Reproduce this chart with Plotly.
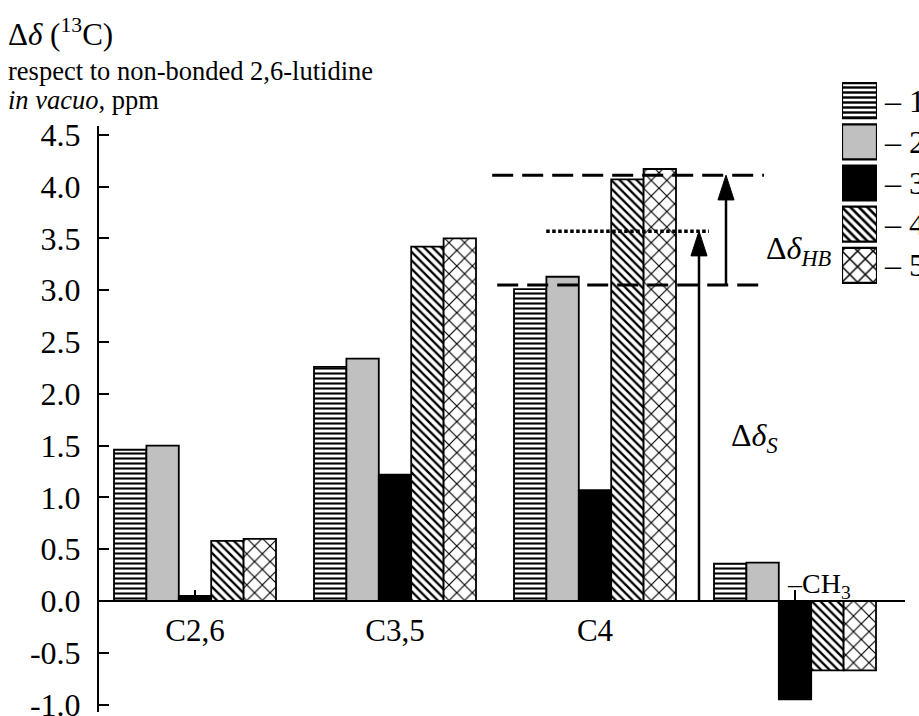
import plotly.graph_objects as go

# ---- data -------------------------------------------------------------
categories = ["C2,6", "C3,5", "C4", "CH3"]
tick_text = ["C2,6", "C3,5", "C4", " "]
series_names = ["1", "2", "3", "4", "5"]
s1 = [1.46, 2.26, 3.01, 0.36]
s2 = [1.50, 2.34, 3.13, 0.37]
s3 = [0.05, 1.22, 1.07, -0.95]
s4 = [0.58, 3.42, 4.07, -0.67]
s5 = [0.60, 3.50, 4.17, -0.67]
y_ticks = [-1.0, -0.5, 0.0, 0.5, 1.0, 1.5, 2.0, 2.5, 3.0, 3.5, 4.0, 4.5]
y_tick_text = ["-1.0", "-0.5", "0.0", "0.5", "1.0", "1.5", "2.0", "2.5", "3.0", "3.5", "4.0", "4.5"]

# levels used for the Δδ_S / Δδ_HB construction over the C4 group
level_low = 3.05
level_mid = 3.57
level_high = 4.11

# ---- styles -----------------------------------------------------------
FONT = "Liberation Serif"
fills = ["white", "#c0c0c0", "black", "white", "white"]
shapes_ = ["-", "", "", "\\", "x"]
psizes = [5, 8, 8, 6, 11]
psolid = [0.42, 0.3, 0.3, 0.38, 0.2]

W, H = 919, 716
ML, MR, MT, MB = 99, 14, 60, 4
PW, PH = W - ML - MR, H - MT - MB


def px(p):
    return (p - ML) / PW


def py(p):
    return (H - MB - p) / PH


ZERO_PX, TOP_PX, BOT_PX, UNIT = 601, 126, 712, 103.6
y_range = [-(BOT_PX - ZERO_PX) / UNIT, (ZERO_PX - TOP_PX) / UNIT]

fig = go.Figure()
series = [s1, s2, s3, s4, s5]
for name, vals, c, sh, sz, so in zip(series_names, series, fills, shapes_, psizes, psolid):
    fig.add_trace(go.Bar(
        x=list(range(len(categories))), y=vals, name=name,
        marker=dict(color=c, line=dict(color="black", width=1.8),
                    pattern=dict(shape=sh, fgcolor="black", bgcolor=c,
                                 size=sz, solidity=so)),
        showlegend=False,
    ))

# Δδ arrows: vertical shafts ending in arrow-head markers
x_s, x_hb = 2.52, 2.655
for xa, y_from, y_to in [(x_s, 0.0, level_mid), (x_hb, level_low, level_high)]:
    fig.add_trace(go.Scatter(
        x=[xa, xa], y=[y_from, y_to], mode="lines+markers",
        line=dict(color="black", width=2.5),
        marker=dict(symbol=["circle", "arrow"], size=[0, 26], angle=0,
                    color="black", opacity=1, line=dict(width=1, color="black")),
        showlegend=False, hoverinfo="skip",
    ))

# legend swatches: one bar per series on their own small axes
for name, c, sh, sz, so in zip(series_names, fills, shapes_, psizes, psolid):
    fig.add_trace(go.Bar(
        x=[1], y=[name], orientation="h", width=0.85, offsetgroup="legend",
        marker=dict(color=c, line=dict(color="black", width=2.2),
                    pattern=dict(shape=sh, fgcolor="black", bgcolor=c,
                                 size=sz, solidity=min(so + 0.06, 0.6))),
        xaxis="x2", yaxis="y2", showlegend=False, hoverinfo="skip",
    ))

annotations = []
# legend labels
leg_top, leg_bot = 80, 286
slot = (leg_bot - leg_top) / 5
for i, n in enumerate(series_names):
    annotations.append(dict(
        x=px(882), y=py(leg_top + slot * (i + 0.5)), xref="paper", yref="paper",
        text="– " + n, showarrow=False, xanchor="left", yanchor="middle",
        font=dict(family=FONT, size=32, color="black")))

# axis title block
annotations += [
    dict(x=px(6), y=py(32), xref="paper", yref="paper", xanchor="left", yanchor="middle",
         text="Δ<i>δ</i> (<sup>13</sup>C)", showarrow=False,
         font=dict(family=FONT, size=31, color="black")),
    dict(x=px(6), y=py(71), xref="paper", yref="paper", xanchor="left", yanchor="middle",
         text="respect to non-bonded 2,6-lutidine", showarrow=False,
         font=dict(family=FONT, size=26.5, color="black")),
    dict(x=px(6), y=py(100), xref="paper", yref="paper", xanchor="left", yanchor="middle",
         text="<i>in vacuo</i>, ppm", showarrow=False,
         font=dict(family=FONT, size=26.5, color="black")),
]

# methyl group label above the axis
annotations.append(dict(
    x=2.95, y=0.15, xref="x", yref="y", xanchor="left", yanchor="middle",
    text="–CH<sub>3</sub>", showarrow=False,
    font=dict(family=FONT, size=28, color="black")))

# Δδ labels
annotations += [
    dict(x=2.845, y=3.38, xref="x", yref="y", xanchor="left", yanchor="middle",
         text="Δ<i>δ</i><sub><i>HB</i></sub>", showarrow=False,
         font=dict(family=FONT, size=32, color="black")),
    dict(x=2.67, y=1.58, xref="x", yref="y", xanchor="left", yanchor="middle",
         text="Δ<i>δ</i><sub><i>S</i></sub>", showarrow=False,
         font=dict(family=FONT, size=32, color="black")),
]

shapes = [
    dict(type="line", xref="x", yref="y", x0=1.486, x1=2.845, y0=level_high, y1=level_high,
         line=dict(color="black", width=3, dash="21px,9px")),
    dict(type="line", xref="x", yref="y", x0=1.511, x1=2.845, y0=level_low, y1=level_low,
         line=dict(color="black", width=3, dash="21px,9px")),
    dict(type="line", xref="x", yref="y", x0=1.756, x1=2.57, y0=level_mid, y1=level_mid,
         line=dict(color="black", width=3.5, dash="3.5px,2.5px")),
]

fig.update_layout(
    template="none",
    width=W, height=H, margin=dict(l=ML, r=MR, t=MT, b=MB, autoexpand=False),
    paper_bgcolor="white", plot_bgcolor="white", showlegend=False,
    barmode="group", bargap=0.19, bargroupgap=0,
    font=dict(family=FONT, color="black"),
    annotations=annotations, shapes=shapes,
    xaxis=dict(domain=[0, 1], range=[-0.48, 3.55], anchor="free", position=py(ZERO_PX),
               tickmode="array", tickvals=list(range(len(categories))), ticktext=tick_text,
               showline=True, linecolor="black", linewidth=2,
               ticks="inside", ticklen=10, tickwidth=2, tickcolor="black",
               tickfont=dict(family=FONT, size=31, color="black"), ticklabelstandoff=2,
               showgrid=False, zeroline=False, layer="below traces", automargin=False),
    yaxis=dict(domain=[0, py(TOP_PX)], range=y_range, anchor="x",
               tickmode="array", tickvals=y_ticks, ticktext=y_tick_text,
               showline=True, linecolor="black", linewidth=2,
               ticks="inside", ticklen=10, tickwidth=2, tickcolor="black",
               tickfont=dict(family=FONT, size=32, color="black"), ticklabelstandoff=10,
               ticklabeloverflow="allow",
               showgrid=False, zeroline=False, layer="below traces", automargin=False),
    xaxis2=dict(domain=[px(842), px(877)], range=[0, 1], anchor="y2",
                visible=False, fixedrange=True),
    yaxis2=dict(domain=[py(leg_bot), py(leg_top)], anchor="x2", autorange="reversed",
                type="category", categoryorder="array", categoryarray=series_names,
                visible=False, fixedrange=True),
)

fig.write_html("out.html")
